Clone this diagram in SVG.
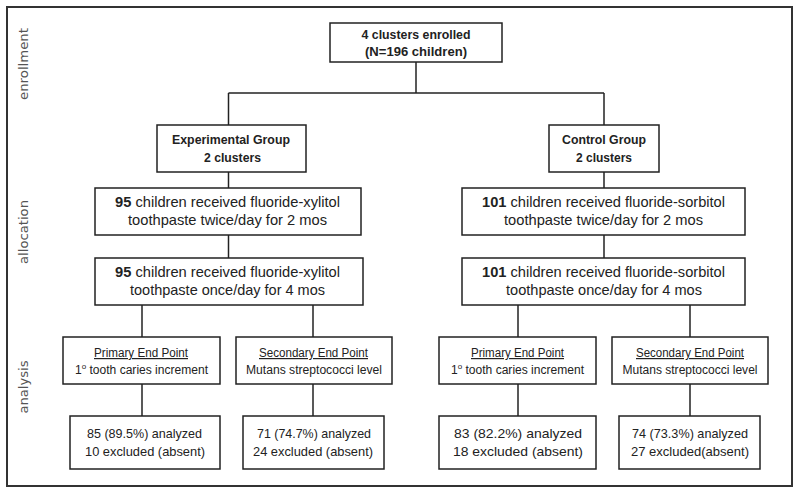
<svg xmlns="http://www.w3.org/2000/svg" width="800" height="494" viewBox="0 0 800 494">
<style>
.box{fill:#fff;stroke:#222;stroke-width:1.5}
.frame{fill:none;stroke:#333;stroke-width:2}
.conn line{stroke:#222;stroke-width:1.5}
text{font-family:"Liberation Sans",Arial,sans-serif;fill:#222;text-anchor:middle}
.h{font-weight:bold;font-size:13px}
.m{font-size:14.5px}
.s{font-size:12px}
.f{font-size:13px}
.side{font-family:"DejaVu Sans",sans-serif;font-size:13px;fill:#555}
</style>
<rect width="800" height="494" fill="#fff"/>
<rect class="frame" x="7" y="7" width="785" height="479"/>
<g id="phase-labels">
<text class="side" transform="translate(28,64) rotate(-90)" textLength="72" lengthAdjust="spacingAndGlyphs">enrollment</text>
<text class="side" transform="translate(28,232) rotate(-90)" textLength="64" lengthAdjust="spacingAndGlyphs">allocation</text>
<text class="side" transform="translate(28,387) rotate(-90)" textLength="53" lengthAdjust="spacingAndGlyphs">analysis</text>
</g>
<g id="connectors" class="conn">
<line x1="416" y1="62" x2="416" y2="93"/>
<line x1="228.5" y1="93" x2="604" y2="93"/>
<line x1="228.5" y1="93" x2="228.5" y2="125"/>
<line x1="604" y1="93" x2="604" y2="125"/>
<line x1="228.5" y1="172" x2="228.5" y2="188"/>
<line x1="604" y1="172" x2="604" y2="188"/>
<line x1="228.5" y1="235" x2="228.5" y2="258"/>
<line x1="604" y1="235" x2="604" y2="258"/>
<line x1="142" y1="305" x2="142" y2="337"/>
<line x1="313" y1="305" x2="313" y2="337"/>
<line x1="518" y1="305" x2="518" y2="337"/>
<line x1="690" y1="305" x2="690" y2="337"/>
<line x1="142" y1="384" x2="142" y2="416"/>
<line x1="313" y1="384" x2="313" y2="416"/>
<line x1="518" y1="384" x2="518" y2="416"/>
<line x1="690" y1="384" x2="690" y2="416"/>
</g>
<g id="enrolled">
<rect class="box" x="330" y="23" width="172" height="39"/>
<text class="h" x="416" y="38.5" textLength="109" lengthAdjust="spacingAndGlyphs">4 clusters enrolled</text>
<text class="h" x="416" y="56" textLength="102" lengthAdjust="spacingAndGlyphs">(N=196 children)</text>
</g>
<g id="exp-group">
<rect class="box" x="157" y="125" width="149" height="47"/>
<text class="h" x="231" y="144" textLength="118" lengthAdjust="spacingAndGlyphs">Experimental Group</text>
<text class="h" x="232.5" y="162" textLength="57" lengthAdjust="spacingAndGlyphs">2 clusters</text>
</g>
<g id="ctrl-group">
<rect class="box" x="549" y="125" width="110" height="47"/>
<text class="h" x="604" y="144" textLength="84" lengthAdjust="spacingAndGlyphs">Control Group</text>
<text class="h" x="604" y="162" textLength="56" lengthAdjust="spacingAndGlyphs">2 clusters</text>
</g>
<g id="exp-twice">
<rect class="box" x="95" y="188" width="266" height="47"/>
<text class="m" x="227.5" y="206.5" textLength="225" lengthAdjust="spacingAndGlyphs"><tspan font-weight="bold">95</tspan> children received fluoride-xylitol</text>
<text class="m" x="227.5" y="224.5" textLength="199" lengthAdjust="spacingAndGlyphs">toothpaste twice/day for 2 mos</text>
</g>
<g id="ctrl-twice">
<rect class="box" x="462" y="188" width="283" height="47"/>
<text class="m" x="603.5" y="206.5" textLength="243" lengthAdjust="spacingAndGlyphs"><tspan font-weight="bold">101</tspan> children received fluoride-sorbitol</text>
<text class="m" x="603.5" y="224.5" textLength="199" lengthAdjust="spacingAndGlyphs">toothpaste twice/day for 2 mos</text>
</g>
<g id="exp-once">
<rect class="box" x="95" y="258" width="268" height="47"/>
<text class="m" x="227.5" y="277" textLength="225" lengthAdjust="spacingAndGlyphs"><tspan font-weight="bold">95</tspan> children received fluoride-xylitol</text>
<text class="m" x="227.5" y="295" textLength="195" lengthAdjust="spacingAndGlyphs">toothpaste once/day for 4 mos</text>
</g>
<g id="ctrl-once">
<rect class="box" x="462" y="258" width="283" height="47"/>
<text class="m" x="603.5" y="277" textLength="243" lengthAdjust="spacingAndGlyphs"><tspan font-weight="bold">101</tspan> children received fluoride-sorbitol</text>
<text class="m" x="604" y="295" textLength="196" lengthAdjust="spacingAndGlyphs">toothpaste once/day for 4 mos</text>
</g>
<g id="exp-primary">
<rect class="box" x="63" y="337" width="157" height="47"/>
<text class="s" x="141" y="357" text-decoration="underline" textLength="94" lengthAdjust="spacingAndGlyphs">Primary End Point</text>
<text class="s" x="141.5" y="374" textLength="133" lengthAdjust="spacingAndGlyphs">1<tspan font-size="8" dy="-5">o</tspan><tspan dy="5"> tooth caries increment</tspan></text>
</g>
<g id="exp-secondary">
<rect class="box" x="236" y="337" width="156" height="47"/>
<text class="s" x="313.5" y="357" text-decoration="underline" textLength="109" lengthAdjust="spacingAndGlyphs">Secondary End Point</text>
<text class="s" x="314" y="374" textLength="136" lengthAdjust="spacingAndGlyphs">Mutans streptococci level</text>
</g>
<g id="ctrl-primary">
<rect class="box" x="439" y="337" width="157" height="47"/>
<text class="s" x="517.5" y="357" text-decoration="underline" textLength="93" lengthAdjust="spacingAndGlyphs">Primary End Point</text>
<text class="s" x="517.5" y="374" textLength="133" lengthAdjust="spacingAndGlyphs">1<tspan font-size="8" dy="-5">o</tspan><tspan dy="5"> tooth caries increment</tspan></text>
</g>
<g id="ctrl-secondary">
<rect class="box" x="612" y="337" width="156" height="47"/>
<text class="s" x="690" y="357" text-decoration="underline" textLength="108" lengthAdjust="spacingAndGlyphs">Secondary End Point</text>
<text class="s" x="690" y="374" textLength="135" lengthAdjust="spacingAndGlyphs">Mutans streptococci level</text>
</g>
<g id="exp-primary-result">
<rect class="box" x="70" y="416" width="150" height="53"/>
<text class="f" x="144.5" y="438" textLength="115" lengthAdjust="spacingAndGlyphs">85 (89.5%) analyzed</text>
<text class="f" x="145" y="455.5" textLength="120" lengthAdjust="spacingAndGlyphs">10 excluded (absent)</text>
</g>
<g id="exp-secondary-result">
<rect class="box" x="243" y="416" width="141" height="53"/>
<text class="f" x="314" y="438" textLength="114" lengthAdjust="spacingAndGlyphs">71 (74.7%) analyzed</text>
<text class="f" x="313" y="455.5" textLength="120" lengthAdjust="spacingAndGlyphs">24 excluded (absent)</text>
</g>
<g id="ctrl-primary-result">
<rect class="box" x="439" y="416" width="157" height="53"/>
<text class="f" x="518" y="438" textLength="128" lengthAdjust="spacingAndGlyphs" font-size="14">83 (82.2%) analyzed</text>
<text class="f" x="518" y="456" textLength="130" lengthAdjust="spacingAndGlyphs" font-size="14">18 excluded (absent)</text>
</g>
<g id="ctrl-secondary-result">
<rect class="box" x="619" y="416" width="141" height="53"/>
<text class="f" x="690" y="438" textLength="116" lengthAdjust="spacingAndGlyphs">74 (73.3%) analyzed</text>
<text class="f" x="690" y="455.5" textLength="118" lengthAdjust="spacingAndGlyphs">27 excluded(absent)</text>
</g>
</svg>
